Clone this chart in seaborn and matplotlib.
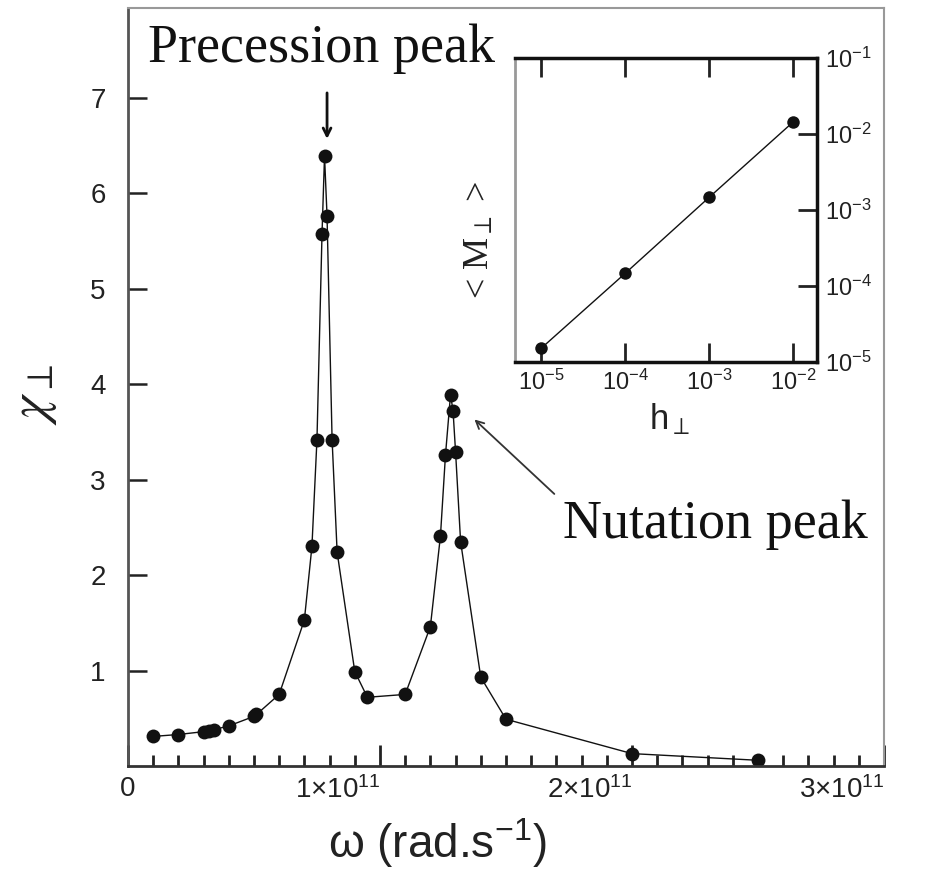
import matplotlib
matplotlib.use("Agg")
import matplotlib.pyplot as plt
from matplotlib.ticker import FixedLocator, MultipleLocator, NullLocator
import numpy as np
import seaborn as sns

# main curve: susceptibility vs frequency
omega = [1.0e10, 2.0e10, 3.0e10, 3.2e10, 3.4e10, 4.0e10, 5.0e10, 5.1e10, 6.0e10,
         7.0e10, 7.3e10, 7.5e10, 7.7e10, 7.8e10, 7.9e10, 8.1e10, 8.3e10, 9.0e10,
         9.5e10, 1.10e11, 1.20e11, 1.24e11, 1.26e11, 1.28e11, 1.29e11, 1.30e11,
         1.32e11, 1.40e11, 1.50e11, 2.0e11, 2.5e11]
chi = [0.31, 0.33, 0.36, 0.37, 0.38, 0.42, 0.52, 0.54, 0.75,
       1.53, 2.30, 3.42, 5.57, 6.39, 5.76, 3.42, 2.24, 0.99,
       0.72, 0.75, 1.46, 2.41, 3.26, 3.89, 3.72, 3.29,
       2.35, 0.93, 0.49, 0.13, 0.06]

# inset: magnetisation vs field
h_perp = [1e-5, 1e-4, 1e-3, 1e-2]
m_perp = [1.5e-5, 1.46e-4, 1.47e-3, 1.45e-2]

x_ticks = [0, 1e11, 2e11, 3e11]
x_ticklabels = ["0", r"$1{\times}10^{11}$", r"$2{\times}10^{11}$", r"$3{\times}10^{11}$"]
y_ticks = [1, 2, 3, 4, 5, 6, 7]
in_xticks = [1e-5, 1e-4, 1e-3, 1e-2]
in_xticklabels = [r"$10^{-5}$", r"$10^{-4}$", r"$10^{-3}$", r"$10^{-2}$"]
in_yticks = [1e-5, 1e-4, 1e-3, 1e-2, 1e-1]
in_yticklabels = [r"$10^{-5}$", r"$10^{-4}$", r"$10^{-3}$", r"$10^{-2}$", r"$10^{-1}$"]

sns.set_style("white")
plt.rcParams["font.family"] = ["Liberation Sans", "DejaVu Sans"]
plt.rcParams["mathtext.fontset"] = "custom"
plt.rcParams["mathtext.rm"] = "Liberation Sans"
plt.rcParams["mathtext.it"] = "Liberation Sans:italic"
plt.rcParams["mathtext.bf"] = "Liberation Sans:bold"

fig = plt.figure(figsize=(9.3, 8.82), dpi=100)
ax = fig.add_axes([0.1376, 0.1315, 0.8129, 0.8594])

sns.lineplot(x=omega, y=chi, ax=ax, color="#111111", lw=1.0, marker="o",
             markersize=10, markeredgewidth=0, markerfacecolor="#111111",
             estimator=None, sort=False)
ax.set_xlim(0, 3e11)
ax.set_ylim(0, 7.94)
ax.xaxis.set_major_locator(FixedLocator(x_ticks))
ax.set_xticklabels(x_ticklabels)
ax.xaxis.set_minor_locator(MultipleLocator(1e10))
ax.yaxis.set_major_locator(FixedLocator(y_ticks))
ax.yaxis.set_minor_locator(NullLocator())
ax.tick_params(axis="x", which="major", direction="in", length=15, width=2,
               labelsize=20, pad=7, colors="#222222", top=False, bottom=True)
ax.tick_params(axis="x", which="minor", direction="in", length=8, width=2,
               top=False, bottom=True, color="#222222")
ax.tick_params(axis="y", which="major", direction="in", length=14, width=1.8,
               labelsize=20, pad=16, colors="#222222", left=True, right=False)
for lbl in ax.get_xticklabels()[1:]:
    lbl.set_horizontalalignment("right")

ax.spines["left"].set_color("#555555")
ax.spines["left"].set_linewidth(2)
ax.spines["bottom"].set_color("#333333")
ax.spines["bottom"].set_linewidth(2)
for side in ("top", "right"):
    ax.spines[side].set_color("#999999")
    ax.spines[side].set_linewidth(1.5)

ax.text(-0.124, 0.49, r"$\chi_{\perp}$", transform=ax.transAxes, rotation=90,
        ha="center", va="center", fontsize=38, math_fontfamily="stix", color="#222222")
ax.text(0.409, -0.102, r"ω (rad.s$^{-1}$)", transform=ax.transAxes,
        ha="center", va="center", fontsize=33, color="#222222")

# annotations
ax.annotate("", xy=(0.79e11, 6.54), xytext=(0.79e11, 7.08),
            arrowprops=dict(arrowstyle="->", lw=2, color="#111111", mutation_scale=14))
ax.annotate("", xy=(1.367e11, 3.65), xytext=(1.70e11, 2.83),
            arrowprops=dict(arrowstyle="->", lw=1.3, color="#333333", mutation_scale=14))
fig.text(148 / 930, 1 - 62 / 882, "Precession peak", family="Liberation Serif",
         fontsize=39, ha="left", va="baseline", color="#111111")
fig.text(563 / 930, 1 - 538 / 882, "Nutation peak", family="Liberation Serif",
         fontsize=39, ha="left", va="baseline", color="#111111")

# inset
ax_in = fig.add_axes([0.5538, 0.5899, 0.3247, 0.3443])
sns.lineplot(x=h_perp, y=m_perp, ax=ax_in, color="#111111", lw=1.0, marker="o",
             markersize=9, markeredgewidth=0, markerfacecolor="#111111",
             estimator=None, sort=False)
ax_in.set_xscale("log")
ax_in.set_yscale("log")
ax_in.set_xlim(10 ** -5.31, 10 ** -1.72)
ax_in.set_ylim(1e-5, 1e-1)
ax_in.xaxis.set_major_locator(FixedLocator(in_xticks))
ax_in.set_xticklabels(in_xticklabels)
ax_in.xaxis.set_minor_locator(NullLocator())
ax_in.yaxis.set_major_locator(FixedLocator(in_yticks))
ax_in.set_yticklabels(in_yticklabels)
ax_in.yaxis.set_minor_locator(NullLocator())
ax_in.tick_params(axis="x", which="major", direction="in", length=14, width=2,
                  top=True, bottom=True, labelsize=17, pad=6, colors="#222222")
ax_in.tick_params(axis="y", which="major", direction="in", length=14, width=2,
                  left=False, right=True, labelleft=False, labelright=True,
                  labelsize=17, pad=6, colors="#222222")
for side in ("top", "right", "bottom"):
    ax_in.spines[side].set_color("#111111")
    ax_in.spines[side].set_linewidth(2.5)
ax_in.spines["left"].set_color("#999999")
ax_in.spines["left"].set_linewidth(2)

ax_in.text(-0.116, 0.40, r"< M$_{\perp}$ >", transform=ax_in.transAxes, rotation=90,
           ha="center", va="center", fontsize=26, family="Liberation Serif",
           math_fontfamily="stix", color="#222222")
ax_in.text(0.513, -0.19, r"h$_{\perp}$", transform=ax_in.transAxes,
           ha="center", va="center", fontsize=25, color="#222222")

fig.savefig("out.png", dpi=100, facecolor="white")
